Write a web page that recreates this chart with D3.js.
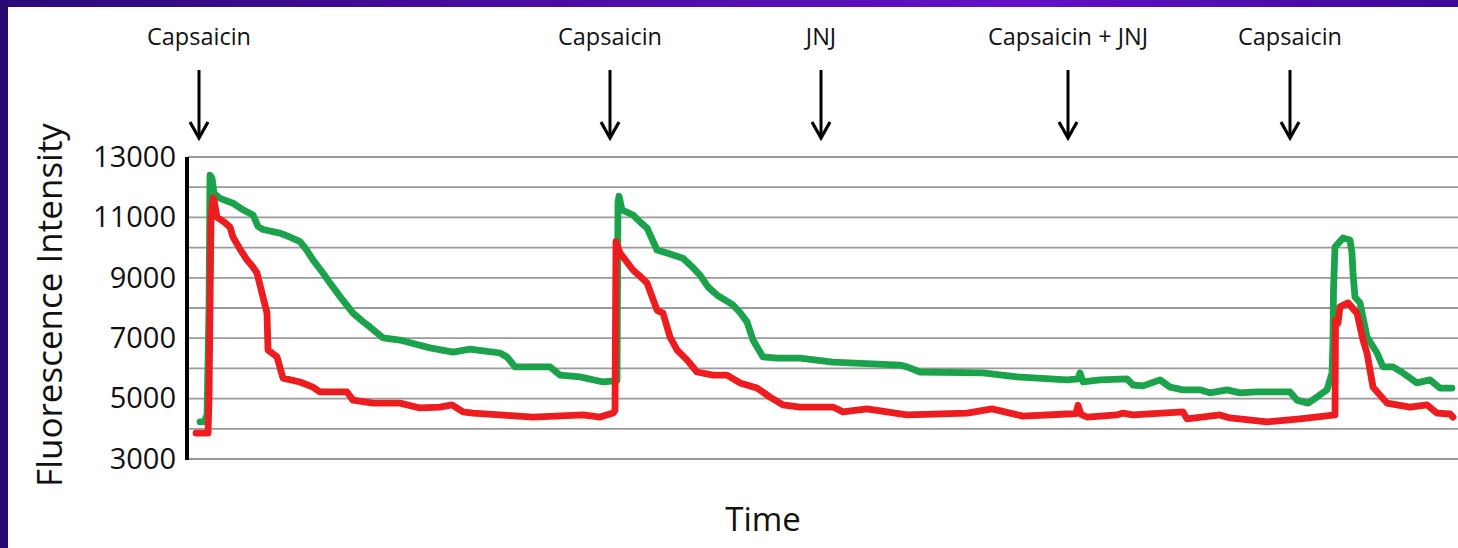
<!DOCTYPE html>
<html>
<head>
<meta charset="utf-8">
<script src="https://cdn.jsdelivr.net/npm/d3@7"></script>
<style>
  html, body { margin: 0; padding: 0; background: #fff; }
  svg { display: block; }
  text { font-family: "Open Sans", "DejaVu Sans", sans-serif; fill: #111; }
</style>
</head>
<body>
<svg id="chart" width="1458" height="548"></svg>
<script>
// Stimulus events applied during the recording (time in frames)
const eventLabels = ["Capsaicin", "Capsaicin", "JNJ", "Capsaicin + JNJ", "Capsaicin"];
const eventTimes = [11, 422, 633, 880, 1102];

// Y axis ticks
const yTickLabels = [3000, 5000, 7000, 9000, 11000, 13000];
const yGridValues = [3000, 4000, 5000, 6000, 7000, 8000, 9000, 10000, 11000, 12000, 13000];

// Cell trace 1 (green)
const greenTime = [12, 16, 19, 21, 22, 24, 26, 32, 45, 55, 65, 70, 75, 92, 102, 112, 118, 125, 134, 142,
  155, 165, 175, 182, 195, 212, 228, 242, 265, 282, 312, 319, 327, 362, 372, 392, 415, 424, 429, 430,
  431, 434, 445, 452, 459, 469, 479, 495, 503, 512, 520, 529, 545, 552, 559, 565, 575, 589, 612, 645,
  712, 719, 732, 795, 829, 879, 890, 892, 895, 912, 939, 945, 955, 972, 982, 995, 1012, 1022, 1039,
  1052, 1069, 1102, 1109, 1120, 1129, 1139, 1144, 1145, 1145.5, 1147, 1155, 1162, 1164, 1165, 1167,
  1172, 1179, 1189, 1195, 1205, 1215, 1229, 1242, 1252, 1264];
const greenValue = [4230, 4230, 4450, 8000, 12400, 12300, 11800, 11630, 11470, 11250, 11080, 10700,
  10600, 10480, 10350, 10200, 9950, 9590, 9200, 8830, 8250, 7830, 7550, 7370, 7010, 6940, 6800, 6680,
  6540, 6640, 6510, 6380, 6050, 6050, 5780, 5720, 5550, 5580, 5600, 11500, 11700, 11250, 11080, 10850,
  10650, 9920, 9820, 9650, 9400, 9090, 8700, 8430, 8100, 7850, 7540, 6940, 6380, 6340, 6340, 6210,
  6110, 6050, 5880, 5850, 5720, 5620, 5650, 5850, 5550, 5620, 5650, 5450, 5420, 5620, 5380, 5290, 5290,
  5190, 5290, 5190, 5220, 5220, 4950, 4850, 5050, 5290, 5850, 6940, 8600, 10020, 10320, 10250, 9820,
  9160, 8360, 8170, 7040, 6510, 6050, 6050, 5850, 5520, 5620, 5350, 5350];

// Cell trace 2 (red)
const redTime = [8, 20, 21, 23, 25, 26, 29, 36, 42, 45, 52, 59, 64, 69, 75, 79, 80, 89, 95, 112, 125,
  132, 159, 165, 185, 212, 232, 252, 264, 275, 285, 312, 345, 395, 412, 425, 427, 428, 432, 445, 452,
  459, 469, 475, 482, 489, 499, 509, 525, 539, 552, 569, 582, 595, 612, 645, 655, 679, 719, 779, 804,
  835, 879, 888, 890, 893, 899, 929, 935, 945, 995, 999, 1032, 1042, 1079, 1112, 1147, 1147.5, 1150,
  1152, 1160, 1169, 1175, 1179, 1185, 1199, 1209, 1222, 1239, 1249, 1262, 1265];
const redValue = [3860, 3860, 5000, 11000, 11640, 11580, 11010, 10850, 10680, 10350, 9950, 9590, 9400,
  9160, 8360, 7830, 6610, 6380, 5680, 5550, 5380, 5220, 5220, 4950, 4850, 4850, 4690, 4720, 4790, 4560,
  4520, 4460, 4390, 4460, 4390, 4520, 4600, 10200, 9820, 9260, 9050, 8830, 7930, 7830, 7040, 6610, 6280,
  5880, 5780, 5780, 5520, 5350, 5050, 4790, 4720, 4720, 4560, 4660, 4460, 4520, 4660, 4420, 4490, 4500,
  4780, 4480, 4390, 4460, 4520, 4460, 4560, 4330, 4460, 4360, 4230, 4330, 4460, 7600, 7500, 8040, 8170,
  7830, 6940, 6510, 5380, 4850, 4790, 4720, 4790, 4520, 4490, 4390];

const svg = d3.select("#chart");
const W = 1458, H = 548;

// Slide frame: gradient band on top, dark band on the left
const defs = svg.append("defs");
const grad = defs.append("linearGradient").attr("id", "band").attr("x1", "0%").attr("x2", "100%");
grad.append("stop").attr("offset", "0%").attr("stop-color", "#2a0a7a");
grad.append("stop").attr("offset", "70%").attr("stop-color", "#6410c6");
grad.append("stop").attr("offset", "100%").attr("stop-color", "#3a0a98");
svg.append("rect").attr("x", 0).attr("y", 0).attr("width", W).attr("height", 7).attr("fill", "url(#band)");
svg.append("rect").attr("x", 0).attr("y", 0).attr("width", 8).attr("height", H).attr("fill", "#270a72");

const x = d3.scaleLinear().domain([0, 1270]).range([188, 1458]);
const y = d3.scaleLinear().domain([3000, 13000]).range([459, 157]);

// Horizontal gridlines
svg.append("g")
  .selectAll("line")
  .data(yGridValues)
  .join("line")
  .attr("x1", x(0)).attr("x2", W)
  .attr("y1", d => y(d)).attr("y2", d => y(d))
  .attr("stroke", "#9a9a9a").attr("stroke-width", 1.8);

// Y axis: labels every 2000, bold vertical rule
const yAxis = d3.axisLeft(y).tickValues(yTickLabels).tickSize(0).tickPadding(12).tickFormat(d3.format("d"));
const gy = svg.append("g").attr("transform", `translate(${x(0)},0)`).call(yAxis);
gy.select(".domain").remove();
gy.selectAll("text")
  .attr("font-size", 29)
  .attr("fill", "#111")
  .style("font-family", '"Open Sans", sans-serif');
svg.append("line")
  .attr("x1", x(0) - 1).attr("x2", x(0) - 1)
  .attr("y1", y(13000)).attr("y2", y(3000) + 1)
  .attr("stroke", "#000").attr("stroke-width", 4);

// Traces
const line = d3.line().x(d => x(d[0])).y(d => y(d[1]));
const traces = [
  { t: greenTime, v: greenValue, color: "#1ba34b" },
  { t: redTime, v: redValue, color: "#ec1c1f" }
];
svg.append("g")
  .selectAll("path")
  .data(traces)
  .join("path")
  .attr("d", d => line(d.t.map((t, i) => [t, d.v[i]])))
  .attr("fill", "none")
  .attr("stroke", d => d.color)
  .attr("stroke-width", 6.8)
  .attr("stroke-linejoin", "round")
  .attr("stroke-linecap", "round");

// Event labels and arrows
const ev = svg.append("g")
  .selectAll("g")
  .data(eventTimes.map((t, i) => ({ t, label: eventLabels[i] })))
  .join("g")
  .attr("transform", d => `translate(${x(d.t)},0)`);
ev.append("text")
  .attr("y", 45)
  .attr("text-anchor", "middle")
  .attr("font-size", 23.5)
  .text(d => d.label);
ev.append("line")
  .attr("x1", 0).attr("x2", 0).attr("y1", 70).attr("y2", 137)
  .attr("stroke", "#000").attr("stroke-width", 3);
ev.append("path")
  .attr("d", "M-9,122 L0,138 L9,122")
  .attr("fill", "none")
  .attr("stroke", "#000")
  .attr("stroke-width", 3.2)
  .attr("stroke-linejoin", "miter");

// Axis titles
svg.append("text")
  .attr("transform", "translate(62,305) rotate(-90)")
  .attr("text-anchor", "middle")
  .attr("font-size", 35)
  .text("Fluorescence Intensity");
svg.append("text")
  .attr("x", 763).attr("y", 531)
  .attr("text-anchor", "middle")
  .attr("font-size", 33)
  .text("Time");
</script>
</body>
</html>
